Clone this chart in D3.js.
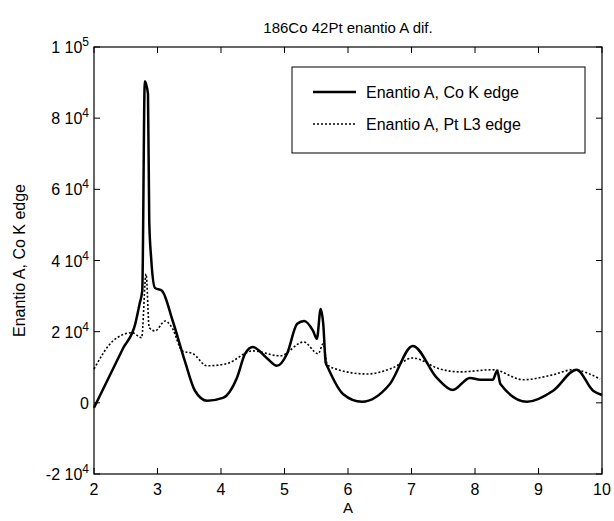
<!DOCTYPE html>
<html><head><meta charset="utf-8">
<script src="https://cdn.jsdelivr.net/npm/d3@7"></script>
<style>body{margin:0;background:#fff}text{font-family:"Liberation Sans",Arial,sans-serif}</style>
</head><body><div id="chart"></div>
<script>
const xTicks = [2, 3, 4, 5, 6, 7, 8, 9, 10];
const yTicks = [-20000, 0, 20000, 40000, 60000, 80000, 100000];
const coK = [[2.0,-1400],[2.46,15400],[2.65,22200],[2.72,28000],[2.76,31500],[2.8,90400],[2.85,86800],[2.87,51000],[2.9,40700],[2.96,32300],[3.07,31500],[3.24,23000],[3.43,11800],[3.59,3400],[3.78,600],[4.03,1400],[4.25,7000],[4.38,13800],[4.5,15700],[4.72,12600],[4.88,10400],[5.04,13800],[5.2,22200],[5.31,23000],[5.45,20200],[5.51,18000],[5.57,26400],[5.61,22200],[5.65,11200],[5.67,10400],[5.92,2500],[6.22,300],[6.66,5300],[7.02,16000],[7.4,7000],[7.65,3600],[7.92,7000],[8.08,6500],[8.28,6500],[8.35,9000],[8.4,5300],[8.82,300],[9.23,3400],[9.6,9300],[9.86,3400],[10.0,2200]];
const ptL3 = [[2.0,9500],[2.3,17400],[2.6,19700],[2.75,18300],[2.82,36200],[2.87,21100],[2.96,20200],[3.12,23000],[3.23,21100],[3.39,14600],[3.56,13800],[3.78,10400],[4.09,11000],[4.5,14600],[4.93,13200],[5.3,17100],[5.53,13800],[5.61,16600],[5.67,11000],[5.76,9800],[6.3,8100],[6.7,9800],[7.02,12600],[7.45,9500],[7.76,8700],[8.28,9300],[8.76,6500],[9.23,7900],[9.54,9300],[9.97,6700]];

const W = 614, H = 521, L = 94, R = 602, T = 47, B = 474;
const svg = d3.select("#chart").append("svg").attr("width", W).attr("height", H);
const x = d3.scaleLinear().domain([2, 10]).range([L, R]);
const y = d3.scaleLinear().domain([-20000, 100000]).range([B, T]);

svg.append("rect").attr("x", L).attr("y", T).attr("width", R - L).attr("height", B - T)
  .attr("fill", "none").attr("stroke", "#000").attr("stroke-width", 1.2);

xTicks.forEach(v => {
  svg.append("line").attr("x1", x(v)).attr("x2", x(v)).attr("y1", B).attr("y2", B - 6).attr("stroke", "#000");
  svg.append("line").attr("x1", x(v)).attr("x2", x(v)).attr("y1", T).attr("y2", T + 6).attr("stroke", "#000");
  svg.append("text").attr("x", x(v)).attr("y", B + 21).attr("text-anchor", "middle").attr("font-size", 16).text(v);
});
yTicks.forEach(v => {
  svg.append("line").attr("x1", L).attr("x2", L + 6).attr("y1", y(v)).attr("y2", y(v)).attr("stroke", "#000");
  svg.append("line").attr("x1", R).attr("x2", R - 6).attr("y1", y(v)).attr("y2", y(v)).attr("stroke", "#000");
  const t = svg.append("text").attr("x", L - 5).attr("y", y(v) + 6).attr("text-anchor", "end").attr("font-size", 16);
  if (v === 0) t.text("0");
  else {
    t.append("tspan").text((v === 100000 ? 1 : v / 10000) + " 10");
    t.append("tspan").attr("dy", -7).attr("font-size", 12).text(v === 100000 ? "5" : "4");
  }
});

svg.append("text").attr("x", (L + R) / 2).attr("y", 33).attr("text-anchor", "middle").attr("font-size", 15).text("186Co 42Pt enantio A dif.");
svg.append("text").attr("x", (L + R) / 2).attr("y", 513).attr("text-anchor", "middle").attr("font-size", 15).text("A");
svg.append("text").attr("transform", `translate(25,${(T + B) / 2}) rotate(-90)`).attr("text-anchor", "middle").attr("font-size", 16).text("Enantio A, Co K edge");

const line = d3.line().x(d => x(d[0])).y(d => y(d[1])).curve(d3.curveMonotoneX);
const g = svg.append("g");
g.append("path").datum(ptL3).attr("d", line).attr("fill", "none").attr("stroke", "#000").attr("stroke-width", 1.6).attr("stroke-dasharray", "2,2");
g.append("path").datum(coK).attr("d", line).attr("fill", "none").attr("stroke", "#000").attr("stroke-width", 2.5);

const lg = svg.append("g");
lg.append("rect").attr("x", 292).attr("y", 67).attr("width", 293).attr("height", 86).attr("fill", "#fff").attr("stroke", "#000");
lg.append("line").attr("x1", 313).attr("x2", 356).attr("y1", 92).attr("y2", 92).attr("stroke", "#000").attr("stroke-width", 2.5);
lg.append("line").attr("x1", 313).attr("x2", 356).attr("y1", 124).attr("y2", 124).attr("stroke", "#000").attr("stroke-width", 1.6).attr("stroke-dasharray", "2,2");
lg.append("text").attr("x", 366).attr("y", 98).attr("font-size", 16).text("Enantio A, Co K edge");
lg.append("text").attr("x", 366).attr("y", 130).attr("font-size", 16).text("Enantio A, Pt L3 edge");
</script></body></html>
